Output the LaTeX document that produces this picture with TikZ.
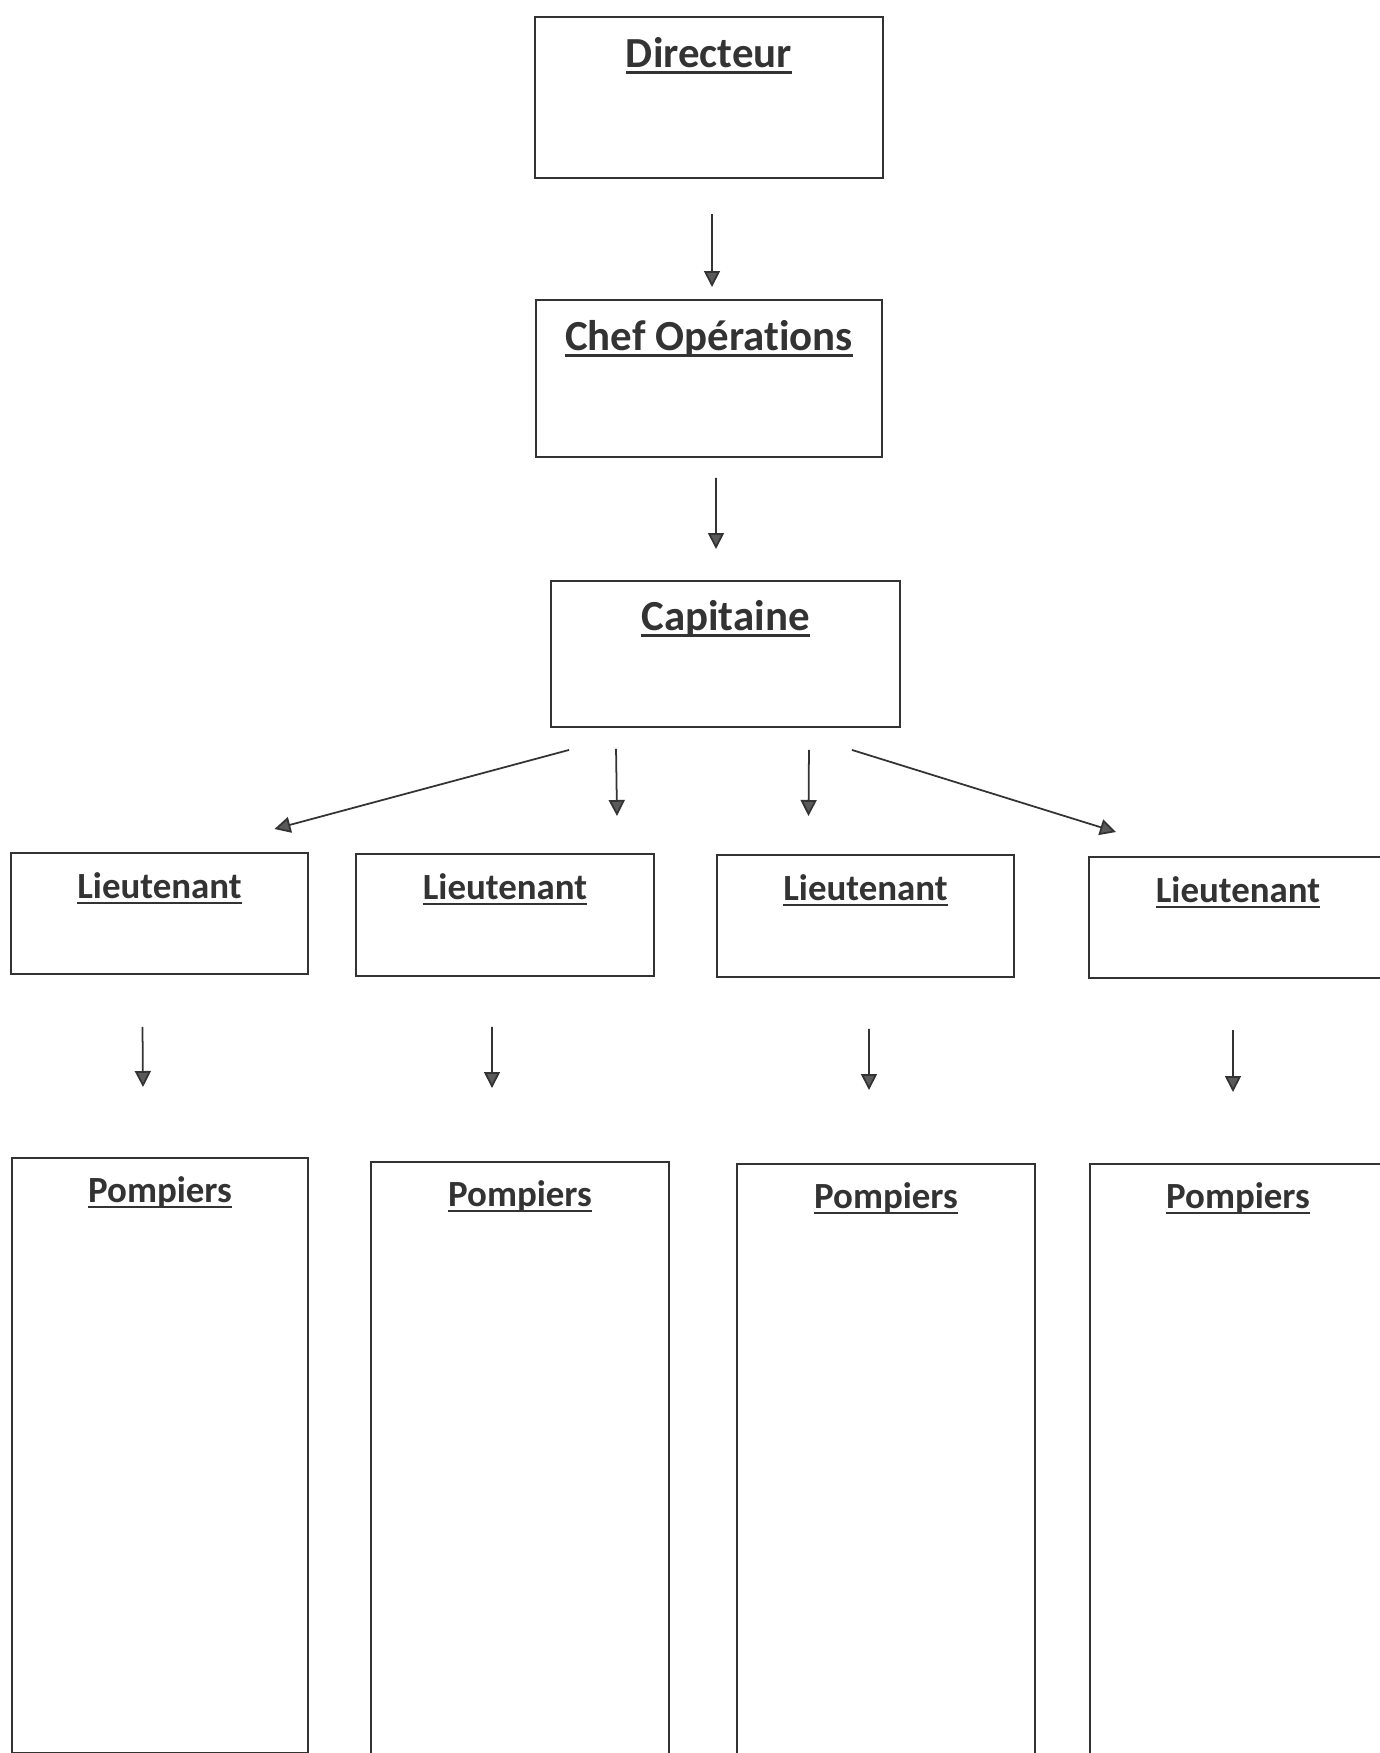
\documentclass[tikz,border=0pt]{standalone}
\usepackage{fontspec}
\setmainfont{Carlito}[Ligatures=NoCommon]
\usetikzlibrary{arrows.meta}
\definecolor{inkgray}{HTML}{333333}
\definecolor{tipgray}{HTML}{5A5A5A}
\newsavebox{\ulbox}
\newcommand{\ulword}[1]{\sbox{\ulbox}{#1}\rlap{\rule[-0.16em]{\wd\ulbox}{0.065em}}\usebox{\ulbox}}

\begin{document}
\begin{tikzpicture}

		\tikzset{
			chart/.style={draw=inkgray, line width=1.1pt, anchor=north, inner sep=0pt},
			bigtitle/.style={anchor=base, font=\fontsize{24.4}{28}\selectfont\bfseries, text=inkgray},
			smalltitle/.style={anchor=base, font=\fontsize{21}{24}\selectfont\bfseries, text=inkgray},
			arr/.style={draw=inkgray, line width=1pt, -{Triangle[width=0.32cm, length=0.32cm, fill=tipgray]}},
		}

		\useasboundingbox[fill=white] (0,0) rectangle (27.6,-35.06);

		% top of the chart
		\node [chart, minimum width=6.96cm, minimum height=3.22cm] (dir) at (14.18,-0.32) {};
		\node [bigtitle] (dirtitle) at ([yshift=-1.02cm]dir.north) {\ulword{Directeur}};

		\node [chart, minimum width=6.92cm, minimum height=3.14cm] (chef) at (14.18,-5.98) {};
		\node [bigtitle] (cheftitle) at ([yshift=-1.02cm]chef.north) {\ulword{Chef Opérations}};

		\node [chart, minimum width=6.98cm, minimum height=2.92cm] (cap) at (14.51,-11.60) {};
		\node [bigtitle] (captitle) at ([yshift=-1.00cm]cap.north) {\ulword{Capitaine}};

		% lieutenants
		\node [chart, minimum width=5.94cm, minimum height=2.42cm] (lt1) at (3.19,-17.04) {};
		\node [chart, minimum width=5.96cm, minimum height=2.44cm] (lt2) at (10.10,-17.06) {};
		\node [chart, minimum width=5.94cm, minimum height=2.44cm] (lt3) at (17.31,-17.08) {};
		\node [chart, minimum width=5.96cm, minimum height=2.42cm] (lt4) at (24.76,-17.12) {};

		\node [smalltitle] (lt1title) at ([yshift=-0.92cm]lt1.north) {\ulword{Lieutenant}};
		\node [smalltitle] (lt2title) at ([yshift=-0.92cm]lt2.north) {\ulword{Lieutenant}};
		\node [smalltitle] (lt3title) at ([yshift=-0.92cm]lt3.north) {\ulword{Lieutenant}};
		\node [smalltitle] (lt4title) at ([yshift=-0.92cm]lt4.north) {\ulword{Lieutenant}};

		% pompiers
		\node [chart, minimum width=5.92cm, minimum height=11.90cm] (pomp1) at (3.20,-23.14) {};
		\node [chart, minimum width=5.96cm, minimum height=12cm] (pomp2) at (10.40,-23.22) {};
		\node [chart, minimum width=5.96cm, minimum height=12cm] (pomp3) at (17.72,-23.26) {};
		\node [chart, minimum width=5.92cm, minimum height=12cm] (pomp4) at (24.76,-23.26) {};

		\node [smalltitle] (pomp1title) at ([yshift=-0.90cm]pomp1.north) {\ulword{Pompiers}};
		\node [smalltitle] (pomp2title) at ([yshift=-0.90cm]pomp2.north) {\ulword{Pompiers}};
		\node [smalltitle] (pomp3title) at ([yshift=-0.90cm]pomp3.north) {\ulword{Pompiers}};
		\node [smalltitle] (pomp4title) at ([yshift=-0.90cm]pomp4.north) {\ulword{Pompiers}};

		% arrows
		\draw [arr] ([shift={(0.06,-0.70)}]dir.south) -- ([shift={(0.06,0.24)}]chef.north);
		\draw [arr] ([shift={(0.14,-0.40)}]chef.south) -- ([shift={(-0.19,0.62)}]cap.north);

		\draw [arr] ([shift={(0.38,-0.44)}]cap.south west) -- ([shift={(2.30,0.46)}]lt1.north);
		\draw [arr] ([shift={(1.32,-0.42)}]cap.south west) -- ([shift={(2.24,0.74)}]lt2.north);
		\draw [arr] ([shift={(-1.84,-0.44)}]cap.south east) -- ([shift={(-1.14,0.76)}]lt3.north);
		\draw [arr] ([shift={(-0.98,-0.44)}]cap.south east) -- ([shift={(-2.44,0.48)}]lt4.north);

		\draw [arr] ([shift={(-0.34,-1.04)}]lt1.south) -- ([shift={(-0.34,1.40)}]pomp1.north);
		\draw [arr] ([shift={(-0.26,-1.00)}]lt2.south) -- ([shift={(-0.56,1.46)}]pomp2.north);
		\draw [arr] ([shift={(0.07,-1.02)}]lt3.south) -- ([shift={(-0.34,1.46)}]pomp3.north);
		\draw [arr] ([shift={(-0.10,-1.02)}]lt4.south) -- ([shift={(-0.10,1.42)}]pomp4.north);

\end{tikzpicture}
\end{document}
